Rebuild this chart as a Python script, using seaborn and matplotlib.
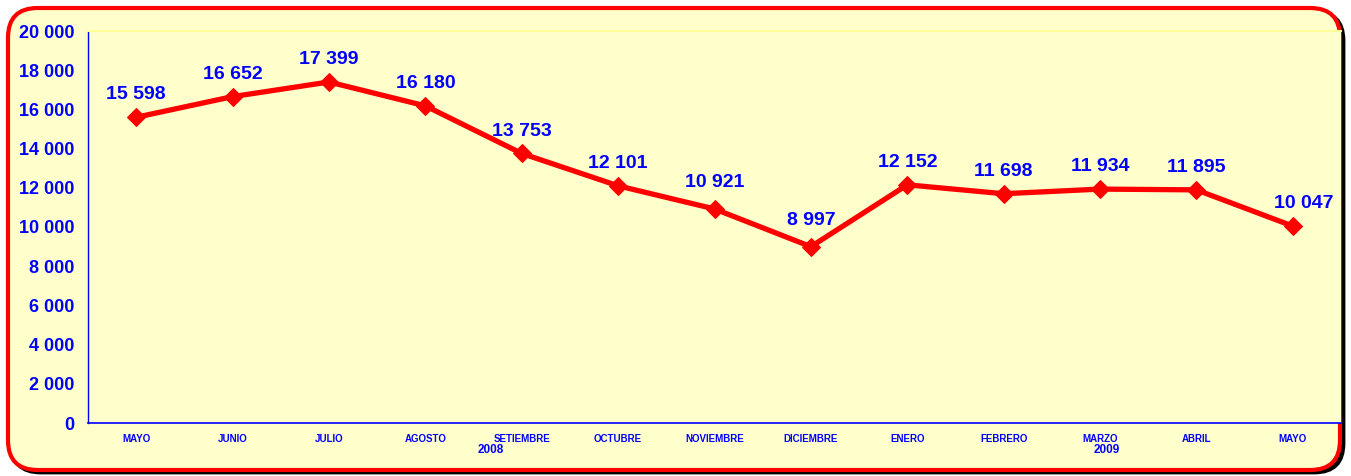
import numpy as np
import pandas as pd
import matplotlib
matplotlib.use('Agg')
import matplotlib.pyplot as plt
from matplotlib.patches import FancyBboxPatch
from matplotlib.ticker import FuncFormatter, MultipleLocator
import seaborn as sns

# data
months = ['MAYO', 'JUNIO', 'JULIO', 'AGOSTO', 'SETIEMBRE', 'OCTUBRE', 'NOVIEMBRE',
          'DICIEMBRE', 'ENERO', 'FEBRERO', 'MARZO', 'ABRIL', 'MAYO']
values = [15598, 16652, 17399, 16180, 13753, 12101, 10921,
          8997, 12152, 11698, 11934, 11895, 10047]
year_labels = ['2008', '2009']
year_at = ['SETIEMBRE', 'MARZO']

df = pd.DataFrame({'pos': np.arange(len(months)), 'month': months, 'value': values})

sns.set_style('white')
plt.rcParams['font.family'] = ['Liberation Sans', 'DejaVu Sans']

BLUE = '#0000FF'
RED = '#FF0000'
BG = '#FFFFCC'

fig = plt.figure(figsize=(13.51, 4.76), dpi=100)

# rounded frame with shadow
shadow = FancyBboxPatch((11 / 1351, 3 / 476), 1333 / 1351, 462 / 476,
                        boxstyle='round,pad=0,rounding_size=0.022',
                        transform=fig.transFigure, facecolor='black',
                        edgecolor='black', linewidth=2, zorder=0,
                        mutation_aspect=1351 / 476)
fig.patches.append(shadow)
frame = FancyBboxPatch((8 / 1351, 6 / 476), 1332 / 1351, 462 / 476,
                       boxstyle='round,pad=0,rounding_size=0.022',
                       transform=fig.transFigure, facecolor=BG,
                       edgecolor=RED, linewidth=3, zorder=1,
                       mutation_aspect=1351 / 476)
fig.patches.append(frame)

ax = fig.add_axes([88 / 1351, 1 - 423 / 476, (1341 - 88) / 1351, (423 - 31) / 476])
ax.set_facecolor(BG)
ax.set_zorder(2)

sns.lineplot(data=df, x='pos', y='value', ax=ax, color=RED, linewidth=3.8,
             marker='D', markersize=9, markeredgecolor=RED, legend=False)

ax.set_xlim(-0.5, len(months) - 0.5)
ax.set_ylim(0, 20000)
ax.yaxis.set_major_locator(MultipleLocator(2000))
ax.yaxis.set_major_formatter(FuncFormatter(lambda v, p: f'{int(v):,}'.replace(',', ' ')))

ax.set_xticks(df['pos'])
ax.set_xticklabels(months, fontsize=7, fontweight='bold', color=BLUE)
ax.set_xticks(np.arange(len(months) + 1) - 0.5, minor=True)
ax.tick_params(axis='x', which='major', length=0, pad=8)
ax.tick_params(axis='x', which='minor', length=4, direction='out', color=BLUE, width=1)
ax.tick_params(axis='y', length=6, direction='out', color=BLUE, width=1,
               labelsize=13, labelcolor=BLUE, pad=4)
for lab in ax.get_yticklabels():
    lab.set_fontweight('bold')

ax.spines['left'].set_color(BLUE)
ax.spines['bottom'].set_color(BLUE)
ax.spines['left'].set_linewidth(1)
ax.spines['bottom'].set_linewidth(1.2)
ax.spines['top'].set_color('#FFFF99')
ax.spines['top'].set_linewidth(1.5)
ax.spines['right'].set_visible(False)
ax.set_xlabel('')
ax.set_ylabel('')

# value labels above points
for i, v in enumerate(values):
    dx = 8 if i == len(values) - 1 else 0
    dy = 13 if i in (6, 7) else 10
    ax.annotate(f'{v:,}'.replace(',', ' '), (i, v), xytext=(dx, dy),
                textcoords='offset points', ha='center', va='bottom',
                fontsize=14, fontweight='bold', color=BLUE, annotation_clip=False)

# year labels under the months
for yl, m in zip(year_labels, year_at):
    i = months.index(m)
    dx = -0.32 if m == 'SETIEMBRE' else 0.07
    ax.text(i + dx, -0.053, yl, transform=ax.get_xaxis_transform(),
            ha='center', va='top', fontsize=8.5, fontweight='bold', color=BLUE)

fig.savefig('out.png', dpi=100)
